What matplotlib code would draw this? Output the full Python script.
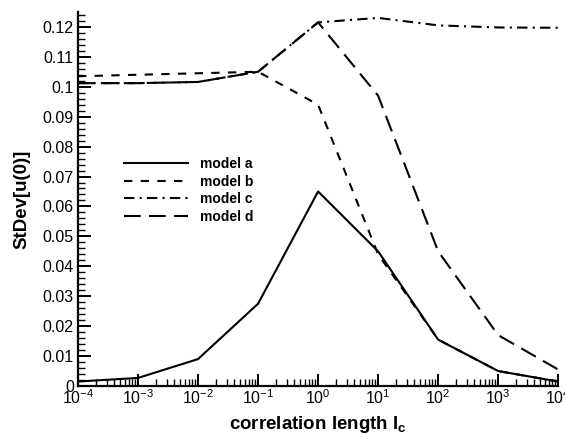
import numpy as np
import matplotlib
matplotlib.use("Agg")
import matplotlib.pyplot as plt
from matplotlib.ticker import MultipleLocator, LogLocator, FixedLocator, NullFormatter

plt.rcParams["font.family"] = ["Liberation Sans", "DejaVu Sans"]
plt.rcParams["mathtext.fontset"] = "custom"
plt.rcParams["mathtext.rm"] = "Liberation Sans"
plt.rcParams["mathtext.bf"] = "Liberation Sans:bold"

# data
corr_length = [1e-4, 1e-3, 1e-2, 1e-1, 1e0, 1e1, 1e2, 1e3, 1e4]
model_a = [0.0015, 0.0027, 0.0090, 0.0275, 0.0650, 0.0450, 0.0155, 0.0050, 0.0015]
model_b = [0.1035, 0.1040, 0.1045, 0.1050, 0.0940, 0.0440, 0.0155, 0.0050, 0.0015]
model_c = [0.1012, 0.1012, 0.1016, 0.1050, 0.1215, 0.1230, 0.1205, 0.1198, 0.1197]
model_d = [0.1012, 0.1012, 0.1016, 0.1050, 0.1215, 0.0970, 0.0450, 0.0170, 0.0055]
labels = ["model a", "model b", "model c", "model d"]

fig = plt.figure(figsize=(5.65, 4.33), dpi=100)
ax = fig.add_axes([0.138, 0.1085, 0.850, 0.864])

lw = 1.5
ax.plot(corr_length, model_a, color="black", lw=lw, label=labels[0])
ax.plot(corr_length, model_b, color="black", lw=lw, dashes=(4, 4), label=labels[1])
ax.plot(corr_length, model_c, color="black", lw=lw, dashes=(5, 2.5, 1, 2.5), label=labels[2])
ax.plot(corr_length, model_d, color="black", lw=lw, dashes=(8, 4), label=labels[3])

ax.set_xscale("log")
ax.set_xlim(1e-4, 1e4)
ax.set_ylim(0, 0.125)

ax.spines["top"].set_visible(False)
ax.spines["right"].set_visible(False)
ax.spines["left"].set_linewidth(1.6)
ax.spines["bottom"].set_linewidth(1.6)

ax.yaxis.set_major_locator(FixedLocator([0, 0.01, 0.02, 0.03, 0.04, 0.05, 0.06,
                                         0.07, 0.08, 0.09, 0.1, 0.11, 0.12]))
ax.yaxis.set_major_formatter(plt.FuncFormatter(lambda v, p: f"{v:g}"))
ax.yaxis.set_minor_locator(MultipleLocator(0.002))
ax.xaxis.set_major_locator(LogLocator(base=10, numticks=20))
ax.xaxis.set_minor_locator(LogLocator(base=10, subs=np.arange(2, 10), numticks=20))
ax.xaxis.set_minor_formatter(NullFormatter())

ax.tick_params(which="both", direction="in", labelsize=11.5, width=1.0)
ax.tick_params(which="major", length=9, width=1.4)
ax.tick_params(which="minor", length=5)
ax.tick_params(axis="x", pad=1.5)
ax.tick_params(axis="y", pad=3)

ax.set_xlabel(r"correlation length l$_{\mathbf{c}}$", fontsize=13.5,
              fontweight="bold", labelpad=5)
ax.set_ylabel("StDev[u(0)]", fontsize=13.5, fontweight="bold", labelpad=9)

leg = ax.legend(loc="upper left", bbox_to_anchor=(0.07, 0.645), frameon=False,
                handlelength=4.6, handletextpad=0.9, labelspacing=0.25,
                prop={"weight": "bold", "size": 10})

fig.savefig("out.png", dpi=100)
